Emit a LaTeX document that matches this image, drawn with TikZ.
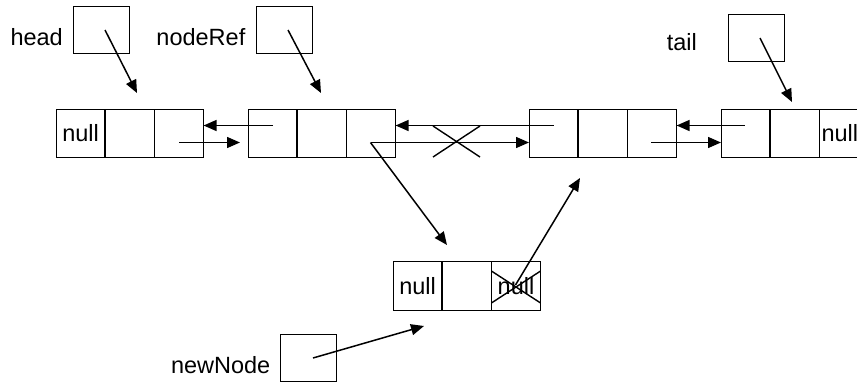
\documentclass[tikz,border=0pt]{standalone}
\usepackage{fontspec}
\setmainfont{Liberation Sans}
\usetikzlibrary{calc,arrows.meta}
\begin{document}
\begin{tikzpicture}[x=1pt,y=-1pt,
  cell/.style={draw,line width=0.9pt,minimum width=48.3pt,minimum height=48.5pt,inner sep=0pt,anchor=west},
  ptrbox/.style={draw,line width=0.9pt,minimum width=56pt,minimum height=47pt,inner sep=0pt},
  lbl/.style={inner sep=0pt,font=\fontsize{23.5}{28}\selectfont},
  link/.style={line width=1.5pt,-{Triangle[length=13pt,width=11pt]}},
  strike/.style={line width=1.4pt}]
\clip (0,0) rectangle (857,383);

% pointer variables
\node[ptrbox] (head) at (101,29.5) {};
\node[lbl,anchor=east] (headL) at (63,36.7) {head};
\node[ptrbox] (ref) at (284,29.5) {};
\node[lbl,anchor=east] (refL) at (245.5,36.7) {nodeRef};
\node[ptrbox] (tail) at (756.5,38) {};
\node[lbl,anchor=east] (tailL) at (697,42.5) {tail};
\node[ptrbox] (new) at (308.5,358) {};
\node[lbl,anchor=east] (newL) at (270.5,365.5) {newNode};

% list nodes: prev | data | next
\foreach \n/\x/\y in {n1/56/133.5, n2/248/133.5, n3/529/133.5, n4/721/133.5, m/393/286}{
  \node[cell] (\n a) at (\x,\y) {};
  \node[cell] (\n b) at (\n a.east) {};
  \node[cell] (\n c) at (\n b.east) {};
}
\node[lbl] (v1) at (n1a) {null};
\node[lbl,anchor=west] (v4) at ($(n4c.west)+(2,0)$) {null};
\node[lbl] (vm1) at (ma) {null};
\node[lbl] (vm3) at (mc) {null};

% start points of the links
\coordinate (n2p) at ($(n2a)+(0.5,-8)$);
\coordinate (n1n) at ($(n1c)+(0,9)$);
\coordinate (n3p) at ($(n3a)+(0,-8)$);
\coordinate (n2n) at ($(n2c)+(-0.5,9)$);
\coordinate (n4p) at ($(n4a)+(-1,-8)$);
\coordinate (n3n) at ($(n3c)+(-1,9)$);
\coordinate (mn) at ($(mc)+(-0.5,-1)$);
\coordinate (h0) at ($(head)+(4,0.5)$);
\coordinate (r0) at ($(ref)+(4,0.5)$);
\coordinate (t0) at ($(tail)+(3.5,0)$);
\coordinate (w0) at ($(new)+(4.5,0)$);
\coordinate (n1in) at ($(n2a.west)+(-8,9)$);
\coordinate (h1) at (137,93);
\coordinate (r1) at (321,93);
\coordinate (t1) at (792,102);
\coordinate (w1) at (424,326);
\coordinate (m1) at (447,245);
\coordinate (n3in) at (580,178);

% pointer arrows
\draw[link] (h0) -- (h1);
\draw[link] (r0) -- (r1);
\draw[link] (t0) -- (t1);
\draw[link] (w0) -- (w1);

% links between list nodes
\draw[link] (n2p) -- (n1c.east |- n2p);
\draw[link] (n1n) -- (n1in);
\draw[link] (n3p) -- (n2c.east |- n3p);
\draw[link] (n2n) -- (n3a.west |- n2n);
\draw[link] (n4p) -- (n3c.east |- n4p);
\draw[link] (n3n) -- (n4a.west |- n3n);
\draw[link] (n2n) -- (m1);
\draw[link] (mn) -- (n3in);

% removed references
\coordinate (x1) at (433,126);
\coordinate (x2) at (480,157);
\draw[strike] (x1) -- (x2) (x1 |- x2) -- (x2 |- x1);
\draw[strike] ($(mc.west)+(0,-15)$) -- ($(mc.east)+(0,17)$)
              ($(mc.west)+(0,17)$) -- ($(mc.east)+(0,-15)$);
\end{tikzpicture}
\end{document}
